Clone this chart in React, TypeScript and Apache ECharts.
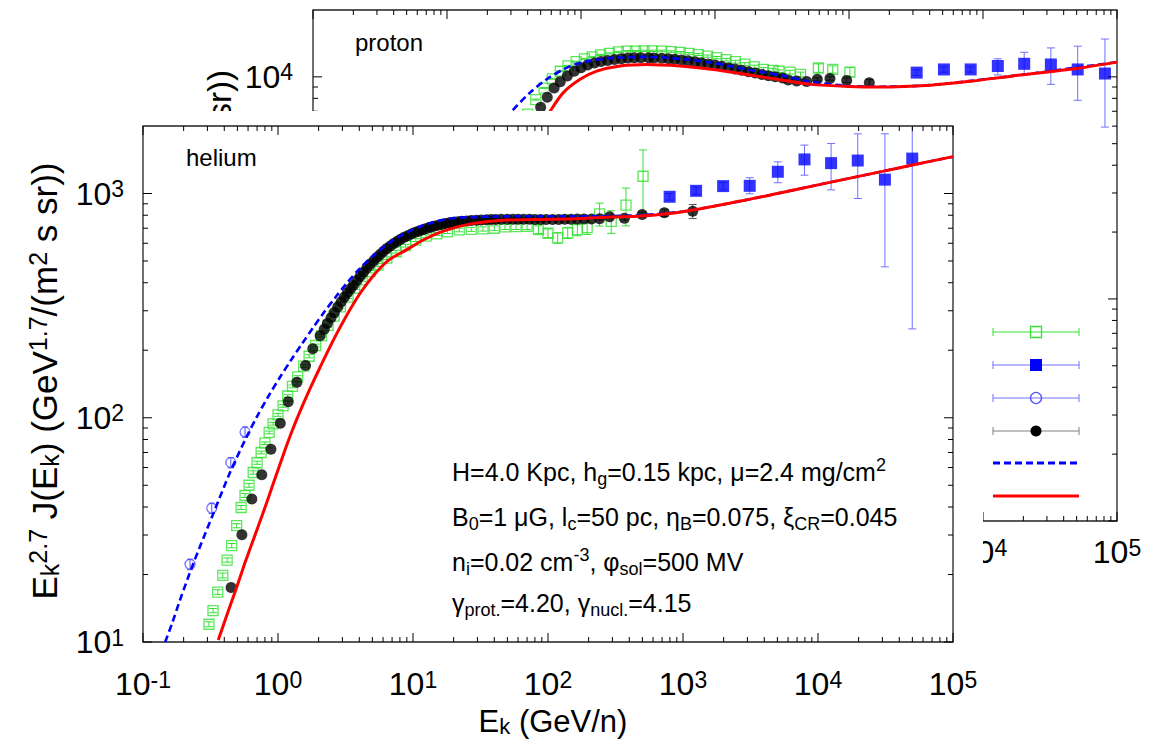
import React, { useEffect, useRef } from 'react';
import * as echarts from 'echarts';

const FONT = '"Liberation Sans", Arial, Helvetica, sans-serif';
const GREEN = '#33e033';
const BLUE = '#0000ff';
const BLUE_ERR = '#7070ff';
const BLUE_OPEN = '#5050ff';
const RED = '#ff0000';

// ---------------- axis decades / tick labels ----------------
const X_DECADES = [-1, 0, 1, 2, 3, 4, 5];
const HE_Y_DECADES = [1, 2, 3];
const P_Y_DECADES = [2, 3, 4];
const MINOR_MULT = [2, 3, 4, 5, 6, 7, 8, 9];

// ---------------- HELIUM panel ----------------
// AMS-02 like (black filled circles)
const heAmsE = [0.449, 0.54, 0.64, 0.758, 0.886, 1.04, 1.19, 1.38, 1.6, 1.81, 2.05, 2.2, 2.32, 2.47, 2.61, 2.77, 2.94, 3.1, 3.27, 3.45, 3.62, 3.85, 4.06, 4.3, 4.55, 4.8, 5.1, 5.4, 5.7, 6.05, 6.4, 6.8, 7.2, 7.65, 8.1, 8.6, 9.2, 9.8, 10.4, 11.1, 11.8, 12.6, 13.4, 14.3, 15.3, 16.4, 17.5, 18.7, 20, 21.5, 23, 25, 27, 29.5, 32, 35, 38, 41, 45, 50, 55, 60, 66, 73, 80, 88, 97, 108, 120, 133, 148, 165, 185, 210, 241, 286, 368, 498, 728, 1180];
const heAmsV = [17.5, 30.1, 43.4, 55.7, 72.4, 94.6, 118, 144, 171, 203, 232, 248, 263, 279, 295, 312, 329, 345, 361, 376, 390, 409, 428, 446, 465, 483, 500, 518, 535, 552, 568, 583, 598, 612, 625, 638, 650, 661, 672, 681, 690, 699, 708, 715, 722, 729, 735, 740, 745, 749, 752, 755, 758, 760, 762, 764, 765, 766, 767, 768, 768, 768, 767, 767, 766, 766, 765, 765, 766, 767, 768, 769, 770, 770, 771, 787, 776, 806, 820, 834];
const heAmsErrE = [241, 286, 368, 498, 728, 1180];
const heAmsErrLo = [761, 775, 761, 786, 790, 773];
const heAmsErrHi = [781, 799, 791, 826, 850, 893];

// PAMELA like (green open squares)
const heGreenE = [0.308, 0.33, 0.358, 0.39, 0.42, 0.454, 0.494, 0.533, 0.57, 0.61, 0.655, 0.7, 0.75, 0.8, 0.86, 0.92, 1.0, 1.09, 1.18, 1.28, 1.4, 1.55, 1.7, 1.9, 2.1, 2.35, 2.6, 2.9, 3.3, 3.7, 4.2, 4.8, 5.5, 6.4, 7.5, 8.8, 10.5, 12.5, 15, 18, 22, 27, 33, 40, 48, 58, 70, 85, 100, 118, 140, 165, 195, 241, 294, 378, 506];
const heGreenV = [12.0, 13.8, 16.7, 19.8, 23.2, 26.9, 33, 39.8, 45, 50, 57, 63, 70, 77, 86, 94, 103, 113, 125, 138, 152, 170, 188, 210, 232, 258, 284, 312, 345, 378, 412, 448, 480, 515, 550, 585, 620, 645, 660, 675, 688, 692, 695, 700, 710, 712, 714, 690, 665, 634, 668, 690, 705, 811, 751, 887, 1194];
const heGreenErr = [0.3, 0.3, 0.4, 0.5, 0.5, 0.6, 0.7, 0.8, 0.9, 1, 1, 1, 1, 1, 1.2, 1.3, 1.5, 1.6, 1.8, 2, 2, 2.5, 3, 3, 3, 4, 4, 4, 5, 5, 6, 6, 7, 7, 8, 8, 9, 10, 10, 12, 13, 14, 15, 17, 19, 21, 24, 27, 30, 34, 38, 42, 48, 95, 87, 170, 370];

// CREAM like (blue filled squares)
const heCreamE = [796, 1250, 1983, 3120, 5040, 7940, 12500, 19700, 31300, 49900];
const heCreamV = [967, 1028, 1079, 1082, 1250, 1419, 1366, 1403, 1153, 1431];
const heCreamLo = [935, 990, 1040, 997, 1117, 1207, 1038, 950, 471, 249];
const heCreamHi = [1000, 1068, 1120, 1176, 1384, 1644, 1670, 1845, 1845, 2400];

// BESS like (blue open circles)
const heBessE = [0.223, 0.323, 0.447, 0.57];
const heBessV = [22.2, 39.5, 63.1, 86.3];
const heBessLo = [21.0, 37.4, 59.8, 81.8];
const heBessHi = [23.4, 41.6, 66.5, 91.0];

// model, modulated (red)
const heModE = [0.361, 0.42, 0.487, 0.57, 0.665, 0.77, 0.879, 1.0, 1.11, 1.25, 1.43, 1.7, 2.05, 2.61, 3.27, 4.06, 5.1, 6.5, 9, 12, 16, 21, 28, 38, 50, 80, 155, 300, 483, 1000, 2670, 5000, 10000, 30000, 50000, 100000];
const heModV = [10.2, 13.3, 17.1, 22.6, 29.2, 37.2, 46.8, 58.5, 70, 85, 104, 132, 168, 226, 290, 359, 431, 501, 562, 622, 672, 708, 736, 753, 762, 765, 771, 785, 793, 830, 925, 1000, 1093, 1255, 1340, 1460];

// model, interstellar (blue dashed)
const heLisE = [0.146, 0.165, 0.188, 0.236, 0.333, 0.44, 0.587, 0.7, 0.85, 1.04, 1.25, 1.5, 1.8, 2.2, 2.7, 3.24, 4.0, 5.1, 6.78, 9, 12, 16, 21, 28, 38, 50, 70, 100, 200, 483, 1000, 2670, 10000, 30000, 100000];
const heLisV = [10, 12.2, 15.4, 22.4, 37.6, 56.8, 82.5, 101.4, 124.8, 152.4, 180.8, 213, 250, 296, 348, 399, 460, 530, 606, 671, 723, 759, 780, 785, 789, 791, 792, 792, 792, 800, 832, 925, 1093, 1255, 1460];

// ---------------- PROTON panel ----------------
const pAmsE = [4.0, 4.5, 5.0, 5.6, 6.3, 7.0, 7.9, 8.9, 10, 11.2, 12.6, 14.1, 15.8, 17.8, 20, 22.4, 25, 28, 32, 35, 40, 45, 50, 56, 63, 71, 79, 89, 100, 112, 126, 141, 158, 178, 200, 224, 251, 282, 320, 352, 407, 483, 580, 721, 961, 1417];
const pAmsV = [5700, 6500, 7300, 8100, 8900, 9500, 10100, 10600, 11000, 11300, 11550, 11720, 11860, 11980, 12080, 12150, 12180, 12190, 12180, 12160, 12120, 12070, 12000, 11920, 11820, 11700, 11580, 11440, 11300, 11150, 11000, 10850, 10700, 10550, 10400, 10250, 10120, 10000, 9880, 9680, 9580, 9530, 9750, 9840, 9640, 9400];
const pAmsErrE = [580, 721, 961, 1417];
const pAmsErrLo = [9600, 9660, 9420, 9080];
const pAmsErrHi = [9900, 10020, 9860, 9720];

const pGreenE = [4.0, 4.6, 5.3, 6.1, 7.0, 8.0, 9.2, 10.6, 12.1, 14, 16.3, 19, 22, 25.5, 29.5, 34, 40, 47, 55, 64, 75, 88, 103, 121, 142, 167, 196, 230, 270, 300, 363, 435, 591, 756, 1016];
const pGreenV = [6800, 7900, 8900, 9800, 10600, 11200, 11700, 12050, 12300, 12550, 12750, 12950, 13050, 13070, 13100, 13100, 13070, 13000, 12900, 12750, 12600, 12400, 12200, 11950, 11700, 11400, 11100, 10800, 10700, 10600, 10500, 10250, 10960, 10800, 10510];
const pGreenErr = [40, 40, 50, 50, 60, 60, 60, 60, 70, 70, 70, 80, 80, 80, 90, 90, 100, 100, 110, 120, 130, 140, 150, 160, 170, 180, 190, 200, 220, 150, 200, 250, 480, 400, 500];

const pCreamE = [3200, 5110, 8090, 12900, 20300, 32100, 50900, 81300];
const pCreamV = [10450, 10800, 10800, 11190, 11450, 11370, 10800, 10350];
const pCreamLo = [10150, 10500, 10500, 10200, 10260, 9250, 7840, 5940];
const pCreamHi = [10750, 11100, 11100, 12060, 12900, 13500, 13740, 14800];

const pModE = [2.5, 3.5, 4.5, 5.9, 7.38, 9.85, 13.1, 19.5, 30.9, 54.8, 97, 172, 305, 520, 1000, 1700, 4020, 8000, 16700, 53000, 100000];
const pModV = [2200, 3700, 5300, 7010, 8490, 9750, 10610, 11190, 11370, 11190, 10800, 10250, 9700, 9250, 9050, 9000, 9170, 9550, 10100, 10970, 11650];

const pLisE = [1.5, 2.2, 3.04, 4.16, 5.54, 7.38, 9.85, 17.5, 30.9, 54.8, 97, 172, 305, 520, 1000, 1700, 4020, 16700, 100000];
const pLisV = [4200, 5700, 7010, 8490, 9750, 10800, 11560, 12180, 12300, 12060, 11560, 10800, 10180, 9500, 9100, 9030, 9180, 10100, 11650];

// ---------------- helpers ----------------
const pts = (E: number[], V: number[]) => E.map((e, i) => [e, V[i]]);
const errSym = (E: number[], V: number[], Er: number[]) => E.map((e, i) => [e, V[i] - Er[i], V[i] + Er[i]]);
const errLH = (E: number[], Lo: number[], Hi: number[]) => E.map((e, i) => [e, Lo[i], Hi[i]]);

function tickValues(decades: number[], maxVal: number) {
  const out: number[][] = [];
  decades.forEach((d) => {
    out.push([Math.pow(10, d), 1]);
    MINOR_MULT.forEach((m) => {
      const v = m * Math.pow(10, d);
      if (v < maxVal * 0.999) out.push([v, 0]);
    });
  });
  return out;
}

function tickSeries(kind: 'x' | 'y', ticks: number[][], other: number) {
  const data = ticks.map((t) => (kind === 'x' ? [t[0], other, t[1]] : [other, t[0], t[1]]));
  return {
    type: 'custom',
    data,
    encode: { x: 0, y: 1 },
    silent: true,
    z: 20,
    clip: false,
    renderItem: (params: any, api: any) => {
      const cs = params.coordSys;
      const p = api.coord([api.value(0), api.value(1)]);
      const len = api.value(2) ? 9 : 5;
      const st = { stroke: '#000', lineWidth: 1 };
      if (kind === 'x') {
        return {
          type: 'group',
          children: [
            { type: 'line', shape: { x1: p[0], y1: cs.y + cs.height, x2: p[0], y2: cs.y + cs.height - len }, style: st },
            { type: 'line', shape: { x1: p[0], y1: cs.y, x2: p[0], y2: cs.y + len }, style: st },
          ],
        };
      }
      return {
        type: 'group',
        children: [
          { type: 'line', shape: { x1: cs.x, y1: p[1], x2: cs.x + len, y2: p[1] }, style: st },
          { type: 'line', shape: { x1: cs.x + cs.width, y1: p[1], x2: cs.x + cs.width - len, y2: p[1] }, style: st },
        ],
      };
    },
  };
}

function errorSeries(data: number[][], color: string, cap: number, z: number) {
  return {
    type: 'custom',
    data,
    encode: { x: 0, y: [1, 2] },
    clip: true,
    silent: true,
    z,
    renderItem: (params: any, api: any) => {
      const x = api.value(0);
      const a = api.coord([x, api.value(1)]);
      const b = api.coord([x, api.value(2)]);
      const st = { stroke: color, lineWidth: 1 };
      return {
        type: 'group',
        children: [
          { type: 'line', shape: { x1: a[0], y1: a[1], x2: b[0], y2: b[1] }, style: st },
          { type: 'line', shape: { x1: a[0] - cap, y1: a[1], x2: a[0] + cap, y2: a[1] }, style: st },
          { type: 'line', shape: { x1: b[0] - cap, y1: b[1], x2: b[0] + cap, y2: b[1] }, style: st },
        ],
      };
    },
  };
}

const scatter = (data: number[][], symbol: string, size: number, itemStyle: any, z: number) => ({
  type: 'scatter', data, symbol, symbolSize: size, itemStyle, z, silent: true, clip: true,
});

const line = (data: number[][], color: string, width: number, dash: any, z: number) => ({
  type: 'line', data, showSymbol: false, symbol: 'none', smooth: 0.3, clip: true, silent: true, z,
  lineStyle: { color, width, type: dash },
});

const tickRich = {
  b: { fontSize: 32, lineHeight: 32, verticalAlign: 'bottom', fontFamily: FONT, color: '#000' },
  s: { fontSize: 23, lineHeight: 20, verticalAlign: 'top', padding: [0, 0, 16, 0], fontFamily: FONT, color: '#000' },
};
const powLabel = (minShown: number) => (v: number) => {
  const l = Math.log10(v);
  const e = Math.round(l);
  if (Math.abs(l - e) > 1e-6) return '';
  if (v < minShown * 0.999) return '';
  return '{b|10}{s|' + e + '}';
};

const titleRich = (fs: number, ss: number) => ({
  b: { fontSize: fs, lineHeight: fs + 2, fontFamily: FONT, fill: '#000' },
  sup: { fontSize: ss, lineHeight: ss, verticalAlign: 'top', fontFamily: FONT, fill: '#000' },
  sub: { fontSize: ss, lineHeight: ss, verticalAlign: 'bottom', fontFamily: FONT, fill: '#000' },
});
const Y_TITLE = '{b|E}{sub|k}{sup|2.7}{b| J(E}{sub|k}{b|) (GeV}{sup|1.7}{b|/(m}{sup|2}{b| s sr))}';
const Y_TITLE_VISIBLE_TAIL = '{b|sr))}';
const X_TITLE = '{b|E}{sub|k}{b| (GeV/n)}';

const txtRich = {
  t: { fontSize: 25, lineHeight: 32, fontFamily: FONT, fill: '#000' },
  ts: { fontSize: 18, lineHeight: 18, verticalAlign: 'bottom', fontFamily: FONT, fill: '#000' },
  tp: { fontSize: 18, lineHeight: 18, verticalAlign: 'top', fontFamily: FONT, fill: '#000' },
};
const PARAM_LINES = [
  '{t|H=4.0 Kpc, h}{ts|g}{t|=0.15 kpc, μ=2.4 mg/cm}{tp|2}',
  '{t|B}{ts|0}{t|=1 μG, l}{ts|c}{t|=50 pc, η}{ts|B}{t|=0.075, ξ}{ts|CR}{t|=0.045}',
  '{t|n}{ts|i}{t|=0.02 cm}{tp|-3}{t|, φ}{ts|sol}{t|=500 MV}',
  '{t|γ}{ts|prot.}{t|=4.20, γ}{ts|nucl.}{t|=4.15}',
];

const textEl = (x: number, y: number, text: string, rich: any, align: string, rotation = 0, extra: any = {}) => ({
  type: 'text', x, y, rotation, z: 30, silent: true,
  style: {
    text, rich, fill: '#000', fontFamily: FONT, fontSize: 24,
    align, verticalAlign: 'middle', textAlign: align, textVerticalAlign: 'middle', ...extra,
  },
});

function axes(yMin: number, yMax: number, xMargin: number, yMargin: number, minShownX: number, minShownY: number) {
  return {
    xAxis: {
      type: 'log', logBase: 10, min: 0.1, max: 1e5,
      axisLine: { show: false }, axisTick: { show: false }, splitLine: { show: false }, minorTick: { show: false },
      axisLabel: { formatter: powLabel(minShownX), rich: tickRich, margin: xMargin, interval: 0, showMinLabel: true, showMaxLabel: true },
    },
    yAxis: {
      type: 'log', logBase: 10, min: yMin, max: yMax,
      axisLine: { show: false }, axisTick: { show: false }, splitLine: { show: false }, minorTick: { show: false },
      axisLabel: { formatter: powLabel(minShownY), rich: tickRich, margin: yMargin, interval: 0, showMinLabel: true, showMaxLabel: true },
    },
  };
}

function legendEls() {
  const rows = [332, 365, 398, 431, 463, 496];
  const x1 = 993, x2 = 1079, xm = 1036, cap = 4;
  const els: any[] = [];
  const bar = (y: number, color: string) => {
    els.push({ type: 'line', shape: { x1, y1: y, x2, y2: y }, style: { stroke: color, lineWidth: 1 }, z: 30 });
    els.push({ type: 'line', shape: { x1, y1: y - cap, x2: x1, y2: y + cap }, style: { stroke: color, lineWidth: 1 }, z: 30 });
    els.push({ type: 'line', shape: { x1: x2, y1: y - cap, x2, y2: y + cap }, style: { stroke: color, lineWidth: 1 }, z: 30 });
  };
  bar(rows[0], GREEN);
  els.push({ type: 'rect', shape: { x: xm - 5.5, y: rows[0] - 5.5, width: 11, height: 11 }, style: { fill: 'rgba(255,255,255,0)', stroke: GREEN, lineWidth: 1.3 }, z: 31 });
  bar(rows[1], BLUE_ERR);
  els.push({ type: 'rect', shape: { x: xm - 6, y: rows[1] - 6, width: 12, height: 12 }, style: { fill: BLUE }, z: 31 });
  bar(rows[2], BLUE_ERR);
  els.push({ type: 'circle', shape: { cx: xm, cy: rows[2], r: 5.5 }, style: { fill: 'rgba(255,255,255,0)', stroke: BLUE_OPEN, lineWidth: 1.3 }, z: 31 });
  bar(rows[3], '#808080');
  els.push({ type: 'circle', shape: { cx: xm, cy: rows[3], r: 5.5 }, style: { fill: '#000' }, z: 31 });
  els.push({ type: 'line', shape: { x1, y1: rows[4], x2, y2: rows[4] }, style: { stroke: BLUE, lineWidth: 3, lineDash: [7, 4] }, z: 30 });
  els.push({ type: 'line', shape: { x1, y1: rows[5], x2, y2: rows[5] }, style: { stroke: RED, lineWidth: 3 }, z: 30 });
  return els;
}

function protonOption() {
  const grid = { left: 313, top: 10, width: 804, height: 511, show: true, borderColor: '#222', borderWidth: 1.3, backgroundColor: 'rgba(0,0,0,0)', containLabel: false, outerBoundsMode: 'none' };
  return {
    animation: false,
    backgroundColor: '#fff',
    grid,
    // labels fully hidden under the helium panel are not drawn
    ...axes(100, 2e4, 15, 20, 1e4, 1e4),
    graphic: [
      textEl(355, 42, 'proton', undefined, 'left', 0, { fontSize: 24 }),
      textEl(219, 70, Y_TITLE_VISIBLE_TAIL, titleRich(33, 24), 'right', Math.PI / 2),
      ...legendEls(),
    ],
    series: [
      errorSeries(errSym(pGreenE, pGreenV, pGreenErr), GREEN, 4, 2),
      scatter(pts(pGreenE, pGreenV), 'rect', 10, { color: 'rgba(255,255,255,0)', borderColor: GREEN, borderWidth: 1.3 }, 3),
      errorSeries(errLH(pAmsErrE, pAmsErrLo, pAmsErrHi), '#555', 4, 4),
      scatter(pts(pAmsE, pAmsV), 'circle', 11, { color: '#000' }, 5),
      errorSeries(errLH(pCreamE, pCreamLo, pCreamHi), BLUE_ERR, 4, 4),
      scatter(pts(pCreamE, pCreamV), 'rect', 12, { color: BLUE }, 5),
      line(pts(pLisE, pLisV), BLUE, 2.6, [7, 4], 6),
      line(pts(pModE, pModV), RED, 3, 'solid', 7),
      tickSeries('x', tickValues(X_DECADES, 1.0001e5), 100),
      tickSeries('y', tickValues(P_Y_DECADES, 2e4), 0.1),
    ],
  };
}

function heliumOption() {
  const grid = { left: 143, top: 15, width: 810, height: 516, show: true, borderColor: '#222', borderWidth: 1.3, backgroundColor: 'rgba(0,0,0,0)', containLabel: false, outerBoundsMode: 'none' };
  return {
    animation: false,
    backgroundColor: '#fff',
    grid,
    ...axes(10, 2000, 26, 19, 0, 0),
    graphic: [
      textEl(186, 46, 'helium', undefined, 'left', 0, { fontSize: 24 }),
      textEl(44, 270, Y_TITLE, titleRich(35, 25), 'center', Math.PI / 2),
      textEl(553, 610, X_TITLE, titleRich(31, 22), 'center'),
      textEl(452, 361, PARAM_LINES[0], txtRich, 'left'),
      textEl(452, 406, PARAM_LINES[1], txtRich, 'left'),
      textEl(452, 451, PARAM_LINES[2], txtRich, 'left'),
      textEl(452, 492, PARAM_LINES[3], txtRich, 'left'),
    ],
    series: [
      errorSeries(errSym(heGreenE, heGreenV, heGreenErr), GREEN, 4, 2),
      scatter(pts(heGreenE, heGreenV), 'rect', 10, { color: 'rgba(255,255,255,0)', borderColor: GREEN, borderWidth: 1.3 }, 3),
      errorSeries(errLH(heBessE, heBessLo, heBessHi), BLUE_OPEN, 3, 2),
      scatter(pts(heBessE, heBessV), 'circle', 10, { color: 'rgba(255,255,255,0)', borderColor: BLUE_OPEN, borderWidth: 1.3 }, 3),
      errorSeries(errLH(heAmsErrE, heAmsErrLo, heAmsErrHi), '#555', 4, 4),
      scatter(pts(heAmsE, heAmsV), 'circle', 11, { color: '#000' }, 5),
      errorSeries(errLH(heCreamE, heCreamLo, heCreamHi), BLUE_ERR, 4, 4),
      scatter(pts(heCreamE, heCreamV), 'rect', 12, { color: BLUE }, 5),
      line(pts(heLisE, heLisV), BLUE, 2.6, [7, 4], 6),
      line(pts(heModE, heModV), RED, 3, 'solid', 7),
      tickSeries('x', tickValues(X_DECADES, 1.0001e5), 10),
      tickSeries('y', tickValues(HE_Y_DECADES, 2000), 0.1),
    ],
  };
}

export default function App() {
  const pRef = useRef<HTMLDivElement>(null);
  const hRef = useRef<HTMLDivElement>(null);
  useEffect(() => {
    const pc = echarts.init(pRef.current!, null, { renderer: 'svg' });
    const hc = echarts.init(hRef.current!, null, { renderer: 'svg' });
    pc.setOption(protonOption() as any);
    hc.setOption(heliumOption() as any);
    return () => {
      pc.dispose();
      hc.dispose();
    };
  }, []);
  return (
    <div style={{ position: 'absolute', left: 0, top: 0, width: 1154, height: 743, background: '#fff', overflow: 'hidden' }}>
      <div ref={pRef} style={{ position: 'absolute', left: 0, top: 0, width: 1154, height: 743 }} />
      <div ref={hRef} style={{ position: 'absolute', left: 0, top: 111, width: 983, height: 632, background: '#fff' }} />
    </div>
  );
}
